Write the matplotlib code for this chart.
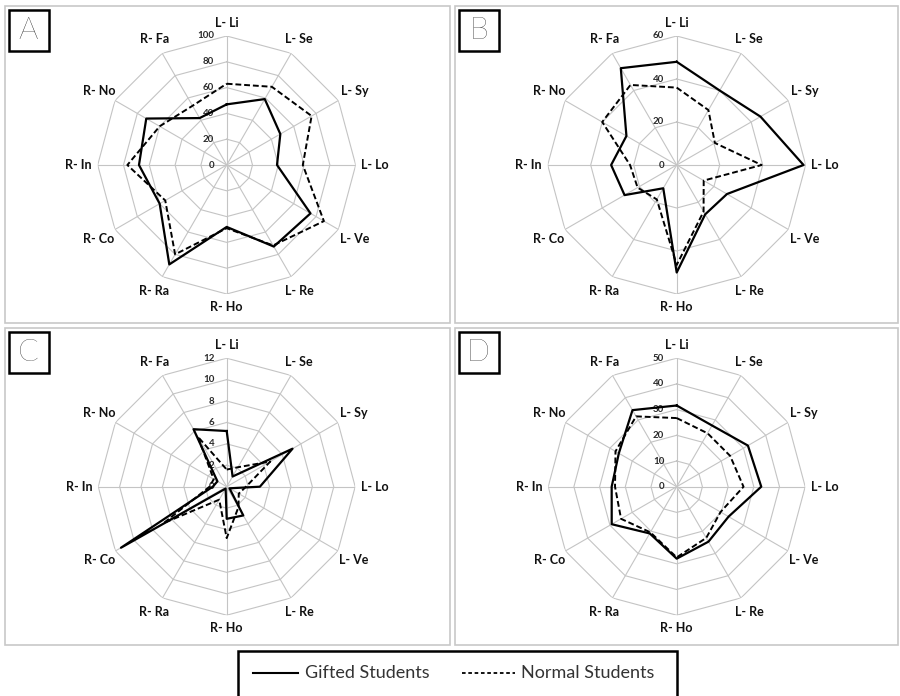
import numpy as np
import matplotlib
matplotlib.use("Agg")
import matplotlib.pyplot as plt
from matplotlib.patches import Rectangle
from matplotlib.lines import Line2D

plt.rcParams["font.family"] = ["Lato", "DejaVu Sans"]

categories = ["L- Li", "L- Se", "L- Sy", "L- Lo", "L- Ve", "L- Re",
              "R- Ho", "R- Ra", "R- Co", "R- In", "R- No", "R- Fa"]

a_gifted = [47, 59, 48, 39, 75, 73, 48, 89, 60, 68, 72, 42]
a_normal = [63, 70, 76, 59, 87, 72, 49, 80, 55, 77, 60, 53]
a_ticks = [0, 20, 40, 60, 80, 100]

b_gifted = [48, 40, 45, 59, 27, 26.5, 50, 12.5, 28, 30.5, 27, 52]
b_normal = [36, 29.5, 20.5, 39.5, 14.5, 25, 46.5, 18.5, 21, 21.7, 40, 43]
b_ticks = [0, 20, 40, 60]

c_gifted = [5.2, 1.1, 7.1, 3.1, 0.3, 3.1, 3.0, 0.2, 11.4, 1.3, 1.0, 6.2]
c_normal = [1.6, 2.1, 4.7, 1.8, 1.3, 2.2, 4.8, 1.4, 6.8, 1.6, 1.4, 5.4]
c_ticks = [0, 2, 4, 6, 8, 10, 12]

d_gifted = [31.6, 27.5, 32, 32.9, 23.3, 24.7, 28, 21, 29.2, 25.3, 26, 34.4]
d_normal = [26.7, 24, 24, 26, 19.7, 23, 27.5, 20.5, 25, 24, 27.5, 31.6]
d_ticks = [0, 10, 20, 30, 40, 50]

panel_names = ["A", "B", "C", "D"]

W, H = 900, 696
GRID = "#c4c4c4"


def fx(x):
    return x / W


def fy(y):
    return 1 - y / H


def radar(fig, cx, cy, R, gifted, normal, ticks):
    ax = fig.add_axes([fx(cx - R), fy(cy + R), 2 * R / W, 2 * R / H],
                      projection="polar")
    ax.set_theta_zero_location("N")
    ax.set_theta_direction(-1)
    ax.grid(False)
    ax.spines["polar"].set_visible(False)
    ax.patch.set_visible(False)
    ax.set_xticks([])
    ax.set_yticks([])
    rmax = ticks[-1]
    ax.set_ylim(0, rmax)

    n = len(categories)
    theta = np.linspace(0, 2 * np.pi, n, endpoint=False)
    closed = np.append(theta, theta[0])

    # polygon rings and spokes
    for v in ticks[1:]:
        ax.plot(closed, [v] * (n + 1), color=GRID, lw=0.8, zorder=1)
    for t in theta:
        ax.plot([t, t], [0, rmax], color=GRID, lw=0.8, zorder=1)

    for v in ticks:
        ax.annotate(str(v), xy=(0, v), xytext=(-9, 0), textcoords="offset points",
                    ha="right", va="center", fontsize=7, fontweight="bold",
                    color="#2a2a2a")

    for t, lab in zip(theta, categories):
        f = 1.10 + 0.05 * abs(np.sin(t))
        ax.text(t, rmax * f, lab, ha="center", va="center", fontsize=9,
                fontweight="bold", color="#111111")

    ax.plot(closed, gifted + gifted[:1], color="black", lw=1.6, zorder=3)
    ax.plot(closed, normal + normal[:1], color="black", lw=1.4,
            linestyle=(0, (3, 1.5)), zorder=3)
    return ax


def main():
    fig = plt.figure(figsize=(9, 6.96), dpi=100)

    panels = [
        (5, 6, 450, 323, a_gifted, a_normal, a_ticks),
        (455, 6, 898, 323, b_gifted, b_normal, b_ticks),
        (5, 328, 450, 645, c_gifted, c_normal, c_ticks),
        (455, 328, 898, 645, d_gifted, d_normal, d_ticks),
    ]
    centers = [(226.7, 165, 129), (676.7, 165, 129),
               (226.7, 486.7, 128.5), (676.7, 486.7, 128.5)]

    for (x0, y0, x1, y1, g, nm, tk), (cx, cy, R), name in zip(panels, centers, panel_names):
        fig.add_artist(Rectangle((fx(x0), fy(y1)), fx(x1 - x0), (y1 - y0) / H,
                                 transform=fig.transFigure, fill=False,
                                 edgecolor="#c8c8c8", lw=1.2))
        radar(fig, cx, cy, R, g, nm, tk)
        bx, by = x0 + 3.5, y0 + 3.5
        fig.add_artist(Rectangle((fx(bx), fy(by + 41)), 40 / W, 41 / H,
                                 transform=fig.transFigure, fill=False,
                                 edgecolor="black", lw=1.8))
        fig.text(fx(bx + 20), fy(by + 21), name, ha="center", va="center",
                 fontsize=22, fontweight="light", color="#000000")

    # legend box
    fig.add_artist(Rectangle((fx(238), fy(710)), fx(677 - 238), 59 / H,
                             transform=fig.transFigure, fill=False,
                             edgecolor="black", lw=1.8))
    ly = fy(673)
    fig.add_artist(Line2D([fx(253), fx(298)], [ly, ly], color="black", lw=1.5,
                          transform=fig.transFigure))
    fig.text(fx(305), ly, "Gifted Students", ha="left", va="center",
             fontsize=13, color="#333333")
    fig.add_artist(Line2D([fx(462), fx(515)], [ly, ly], color="black", lw=1.3,
                          linestyle=(0, (2, 1.5)), transform=fig.transFigure))
    fig.text(fx(521), ly, "Normal Students", ha="left", va="center",
             fontsize=13, color="#333333")

    fig.savefig("out.png", dpi=100)


if __name__ == "__main__":
    main()
